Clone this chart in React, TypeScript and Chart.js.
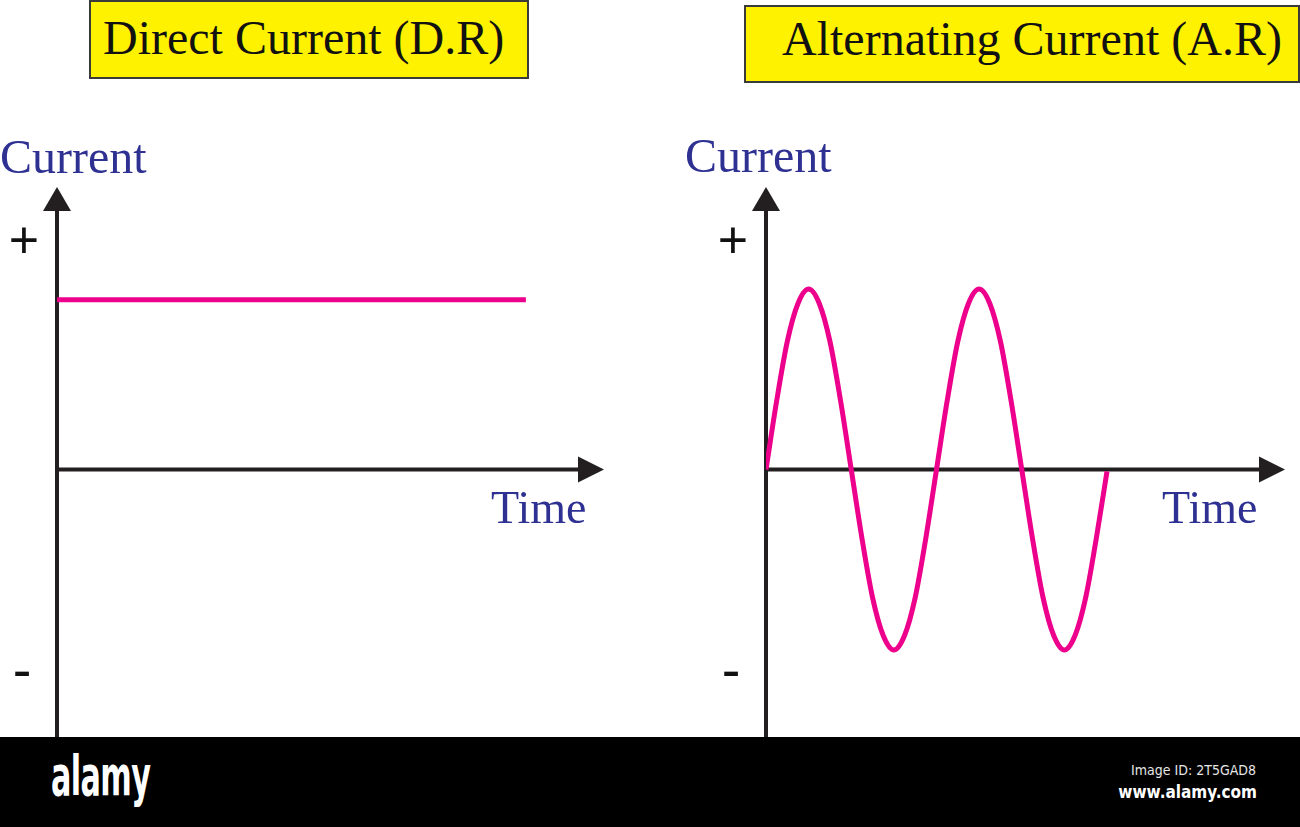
import React, { useEffect, useRef } from "react";
import { Chart, registerables } from "chart.js";

Chart.register(...registerables);

// ---- data ----
const dcTime = [0, 55];
const dcCurrent = [0.94, 0.94];

const acTime = [
  0, 1.25, 2.5, 3.75, 5, 6.25, 7.5, 8.75, 10, 11.25, 12.5, 13.75, 15, 16.25, 17.5, 18.75,
  20, 21.25, 22.5, 23.75, 25, 26.25, 27.5, 28.75, 30, 31.25, 32.5, 33.75, 35, 36.25, 37.5, 38.75, 40,
];
const acCurrent = [
  0, 0.38, 0.71, 0.92, 1, 0.92, 0.71, 0.38, 0, -0.38, -0.71, -0.92, -1, -0.92, -0.71, -0.38,
  0, 0.38, 0.71, 0.92, 1, 0.92, 0.71, 0.38, 0, -0.38, -0.71, -0.92, -1, -0.92, -0.71, -0.38, -0.01,
];

const titles = ["Direct Current (D.R)", "Alternating Current (A.R)"];
const yAxisLabel = "Current";
const xAxisLabel = "Time";
const plusLabel = "+";
const minusLabel = "-";

// ---- styles ----
const PINK = "#ec008c";
const AXIS = "#231f20";
const BLUE = "#2e3192";
const YELLOW = "#fff200";

const arrowAxesPlugin = {
  id: "arrowAxes",
  beforeDatasetsDraw(chart: any) {
    const { ctx, chartArea, scales } = chart;
    const x0 = scales.x.getPixelForValue(0);
    const y0 = scales.y.getPixelForValue(0);
    const top = chartArea.top;
    const right = chartArea.right;
    ctx.save();
    ctx.strokeStyle = AXIS;
    ctx.fillStyle = AXIS;
    ctx.lineWidth = 4;
    ctx.beginPath();
    ctx.moveTo(x0, chartArea.bottom + 5);
    ctx.lineTo(x0, top + 20);
    ctx.moveTo(x0, y0);
    ctx.lineTo(right - 20, y0);
    ctx.stroke();
    // y arrow head
    ctx.beginPath();
    ctx.moveTo(x0, top);
    ctx.lineTo(x0 + 14, top + 24);
    ctx.lineTo(x0 - 14, top + 24);
    ctx.closePath();
    ctx.fill();
    // x arrow head
    ctx.beginPath();
    ctx.moveTo(right, y0);
    ctx.lineTo(right - 26, y0 - 13);
    ctx.lineTo(right - 26, y0 + 13);
    ctx.closePath();
    ctx.fill();
    ctx.restore();
  },
};

const PX_PER_UNIT_Y = 180.5;
const ZERO_Y = 469.5;
const AREA_TOP = 187;
const AREA_BOTTOM = 737;
const PX_PER_UNIT_X = 8.525;

type PanelProps = {
  left: number;
  padLeft: number;
  padRight: number;
  times: number[];
  values: number[];
};

function Panel({ left, padLeft, padRight, times, values }: PanelProps) {
  const ref = useRef<HTMLCanvasElement | null>(null);
  useEffect(() => {
    if (!ref.current) return;
    const width = 650;
    const xMax = (width - padLeft - padRight) / PX_PER_UNIT_X;
    const yMax = (ZERO_Y - AREA_TOP) / PX_PER_UNIT_Y;
    const yMin = -(AREA_BOTTOM - ZERO_Y) / PX_PER_UNIT_Y;
    const chart = new Chart(ref.current, {
      type: "line",
      data: {
        datasets: [
          {
            data: times.map((t, i) => ({ x: t, y: values[i] })),
            borderColor: PINK,
            borderWidth: 5,
            pointRadius: 0,
            fill: false,
            cubicInterpolationMode: "monotone",
            borderCapStyle: "butt",
          },
        ],
      },
      options: {
        animation: false,
        responsive: false,
        maintainAspectRatio: false,
        events: [],
        layout: { padding: { left: padLeft, right: padRight, top: AREA_TOP, bottom: 0 } },
        plugins: {
          legend: { display: false },
          tooltip: { enabled: false },
          title: { display: false },
        },
        scales: {
          x: { type: "linear", display: false, min: 0, max: xMax },
          y: { type: "linear", display: false, min: yMin, max: yMax },
        },
      },
      plugins: [arrowAxesPlugin],
    } as any);
    return () => chart.destroy();
  }, []);
  return (
    <canvas
      ref={ref}
      width={650}
      height={737}
      style={{ position: "absolute", left, top: 0, width: 650, height: 737, display: "block" }}
    />
  );
}

function Text({
  children,
  left,
  top,
  size,
  family = "'Liberation Serif', 'Times New Roman', serif",
  color = "#111",
  weight = 400,
  width,
  align = "left",
  extra = {},
}: any) {
  return (
    <div
      style={{
        position: "absolute",
        left,
        top,
        width,
        fontFamily: family,
        fontSize: size,
        lineHeight: `${size}px`,
        color,
        fontWeight: weight,
        whiteSpace: "nowrap",
        textAlign: align,
        ...extra,
      }}
    >
      {children}
    </div>
  );
}

const SANS = "'Liberation Sans', Arial, sans-serif";
const COND = "'DejaVu Sans Condensed', 'DejaVu Sans', sans-serif";

export default function App() {
  return (
    <div
      style={{
        position: "fixed",
        left: 0,
        top: 0,
        width: 1300,
        height: 827,
        background: "#fff",
        overflow: "hidden",
      }}
    >
      {/* title boxes */}
      <div
        style={{
          position: "absolute",
          left: 89,
          top: 0,
          width: 440,
          height: 79,
          background: YELLOW,
          border: "2px solid #3a3a3a",
          boxSizing: "border-box",
        }}
      />
      <div
        style={{
          position: "absolute",
          left: 744,
          top: 5,
          width: 556,
          height: 78,
          background: YELLOW,
          border: "2px solid #3a3a3a",
          boxSizing: "border-box",
        }}
      />
      <Text left={103} top={13.8} size={48}>{titles[0]}</Text>
      <Text left={782} top={14.8} size={48}>{titles[1]}</Text>

      <Panel left={0} padLeft={57} padRight={46} times={dcTime} values={dcCurrent} />
      <Panel left={650} padLeft={116} padRight={15} times={acTime} values={acCurrent} />

      {/* axis labels */}
      <Text left={0} top={132.8} size={48} color={BLUE}>{yAxisLabel}</Text>
      <Text left={685} top={131.8} size={48} color={BLUE}>{yAxisLabel}</Text>
      <Text left={491} top={484.5} size={46} color={BLUE}>{xAxisLabel}</Text>
      <Text left={1162} top={484.5} size={46} color={BLUE}>{xAxisLabel}</Text>

      <Text left={24 - 30} width={60} align="center" top={213.8} size={52} family={SANS} color="#111">{plusLabel}</Text>
      <Text left={733 - 30} width={60} align="center" top={213.8} size={52} family={SANS} color="#111">{plusLabel}</Text>
      <Text left={22 - 30} width={60} align="center" top={642.3} size={56} family={SANS} color="#111">{minusLabel}</Text>
      <Text left={731 - 30} width={60} align="center" top={642.3} size={56} family={SANS} color="#111">{minusLabel}</Text>

      {/* watermark bar */}
      <div style={{ position: "absolute", left: 0, top: 737, width: 1300, height: 90, background: "#000" }} />
      <Text
        left={51}
        top={747.6}
        size={56}
        family={COND}
        weight={700}
        color="#fff"
        extra={{ transform: "scaleX(0.6)", transformOrigin: "left center", letterSpacing: "-1px" }}
      >
        alamy
      </Text>
      <Text left={1000} width={256} align="right" top={763} size={14} family={COND} color="#e6e6e6">
        Image ID: 2T5GAD8
      </Text>
      <Text left={1000} width={257} align="right" top={784} size={17} family={COND} weight={700} color="#fff">
        www.alamy.com
      </Text>
    </div>
  );
}
